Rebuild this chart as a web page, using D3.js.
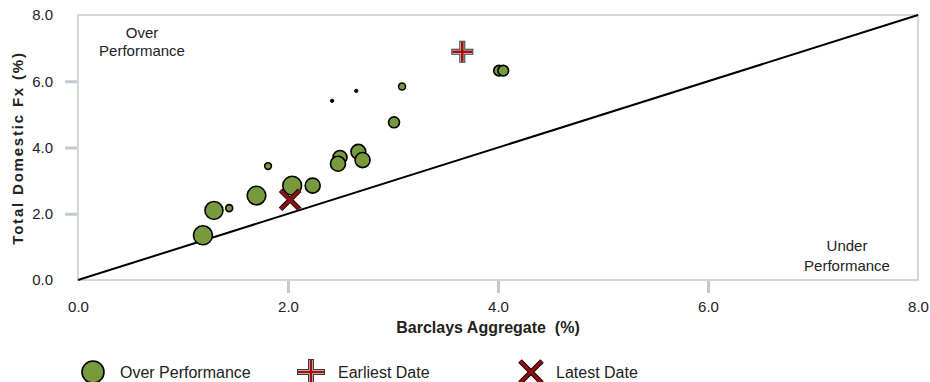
<!DOCTYPE html>
<html><head><meta charset="utf-8">
<script src="https://cdn.jsdelivr.net/npm/d3@7"></script>
<style>
html,body{margin:0;padding:0;background:#fff;}
svg text{font-family:"Liberation Sans",Arial,sans-serif;}
</style></head>
<body><svg id="c" width="930" height="382"></svg>
<script>
// Data
const xTicks = [0, 2, 4, 6, 8];
const yTicks = [0, 2, 4, 6, 8];
const barclays = [1.19, 1.295, 1.44, 1.70, 1.81, 2.04, 2.235, 2.42, 2.65, 2.495, 2.476, 2.67, 2.71, 3.01, 3.086, 4.01, 4.05];
const domesticFx = [1.35, 2.10, 2.17, 2.55, 3.44, 2.85, 2.85, 5.41, 5.71, 3.70, 3.51, 3.87, 3.62, 4.76, 5.84, 6.32, 6.32];
const weight = [96, 86, 13, 92, 12, 94, 60, 3, 3, 52, 60, 58, 60, 32, 13, 30, 30];
const earliest = [3.66, 6.89];
const latest = [2.02, 2.42];
const legendLabels = ["Over Performance", "Earliest Date", "Latest Date"];

const svg = d3.select("#c");
const x = d3.scaleLinear().domain([0, 8]).range([78, 918]);
const y = d3.scaleLinear().domain([0, 8]).range([280, 15]);
const r = d3.scaleSqrt().domain([0, 100]).range([0, 9.7]);

const green = "#769a3c", dred = "#8e1010";
const FS = 15;

// frame
svg.append("rect").attr("x", x(0)).attr("y", y(8)).attr("width", x(8)-x(0)).attr("height", y(0)-y(8))
  .attr("fill", "none").attr("stroke", "#d3d6da").attr("stroke-width", 2);

// x axis
const xa = svg.append("g").attr("transform", `translate(0,${y(0)+1})`)
  .call(d3.axisBottom(x).tickValues(xTicks).tickFormat(d3.format(".1f")).tickSize(12).tickPadding(8));
xa.select(".domain").remove();
xa.selectAll(".tick line").attr("stroke", "#c4c9ce").attr("stroke-width", 3)
  .attr("opacity", d => (d === 0 || d === 8) ? 0 : 1);
xa.selectAll(".tick text").attr("font-size", FS).attr("fill", "#222").attr("font-family", "Liberation Sans, Arial, sans-serif");

// y axis
const ya = svg.append("g").attr("transform", `translate(${x(0)-1},0)`)
  .call(d3.axisLeft(y).tickValues(yTicks).tickFormat(d3.format(".1f")).tickSize(12).tickPadding(12));
ya.select(".domain").remove();
ya.selectAll(".tick line").attr("stroke", "#c4c9ce").attr("stroke-width", 3)
  .attr("opacity", d => (d === 0 || d === 8) ? 0 : 1);
ya.selectAll(".tick text").attr("font-size", FS).attr("fill", "#222").attr("font-family", "Liberation Sans, Arial, sans-serif");

// axis titles
svg.append("text").attr("x", 488).attr("y", 333).attr("text-anchor", "middle")
  .attr("font-size", 16).attr("font-weight", "bold").attr("fill", "#222").attr("xml:space","preserve")
  .text("Barclays Aggregate  (%)");
svg.append("text").attr("transform", `translate(23,148) rotate(-90)`).attr("text-anchor", "middle")
  .attr("font-size", 15).attr("font-weight", "bold").attr("fill", "#222").attr("letter-spacing", 1.8)
  .text("Total Domestic Fx (%)");

// region labels
const ov = svg.append("text").attr("text-anchor", "middle").attr("font-size", 15).attr("fill", "#222");
ov.append("tspan").attr("x", 142).attr("y", 38).text("Over");
ov.append("tspan").attr("x", 142).attr("y", 56).text("Performance");
const un = svg.append("text").attr("text-anchor", "middle").attr("font-size", 15).attr("fill", "#222");
un.append("tspan").attr("x", 847).attr("y", 251).text("Under");
un.append("tspan").attr("x", 847).attr("y", 271).text("Performance");

// diagonal
svg.append("line").attr("x1", x(0)).attr("y1", y(0)).attr("x2", x(8)).attr("y2", y(8))
  .attr("stroke", "#000").attr("stroke-width", 2);

// bubbles
const pts = barclays.map((v, i) => ({x: v, y: domesticFx[i], w: weight[i]}));
svg.append("g").selectAll("circle").data(pts).join("circle")
  .attr("cx", d => x(d.x)).attr("cy", d => y(d.y)).attr("r", d => r(d.w))
  .attr("fill", d => r(d.w) < 2.5 ? "#000" : green).attr("stroke", "#000").attr("stroke-width", d => r(d.w) < 2.5 ? 1 : 1.6);

function plus(g, cx, cy, sx, sy) {
  const p = `M${cx-sx},${cy}H${cx+sx}M${cx},${cy-sy}V${cy+sy}`;
  const q = `M${cx-sx+1},${cy}H${cx+sx-1}M${cx},${cy-sy+1}V${cy+sy-1}`;
  g.append("path").attr("d", p).attr("stroke", "#3a3a3a").attr("stroke-width", 6).attr("fill", "none");
  g.append("path").attr("d", q).attr("stroke", "#d8d8d8").attr("stroke-width", 4);
  g.append("path").attr("d", q).attr("stroke", "#a01010").attr("stroke-width", 2.6);
}
function cross(g, cx, cy, s) {
  const p = `M${cx-s},${cy-s}L${cx+s},${cy+s}M${cx-s},${cy+s}L${cx+s},${cy-s}`;
  g.append("path").attr("d", p).attr("stroke", "#1a0000").attr("stroke-width", 5).attr("fill", "none");
  g.append("path").attr("d", p).attr("stroke", dred).attr("stroke-width", 3).attr("fill", "none");
}
const mk = svg.append("g");
plus(mk, x(earliest[0]), y(earliest[1]), 11, 11);
cross(mk, x(latest[0]), y(latest[1]), 9.5);

// legend
const lg = svg.append("g");
lg.append("circle").attr("cx", 93).attr("cy", 372).attr("r", 11).attr("fill", green).attr("stroke", "#000").attr("stroke-width", 1.6);
plus(lg, 311, 372, 14, 13);
cross(lg, 531, 372, 11);
const lx = [120, 338, 556];
legendLabels.forEach((t, i) => {
  lg.append("text").attr("x", lx[i]).attr("y", 378).attr("font-size", 16).attr("fill", "#222").text(t);
});
</script></body></html>
